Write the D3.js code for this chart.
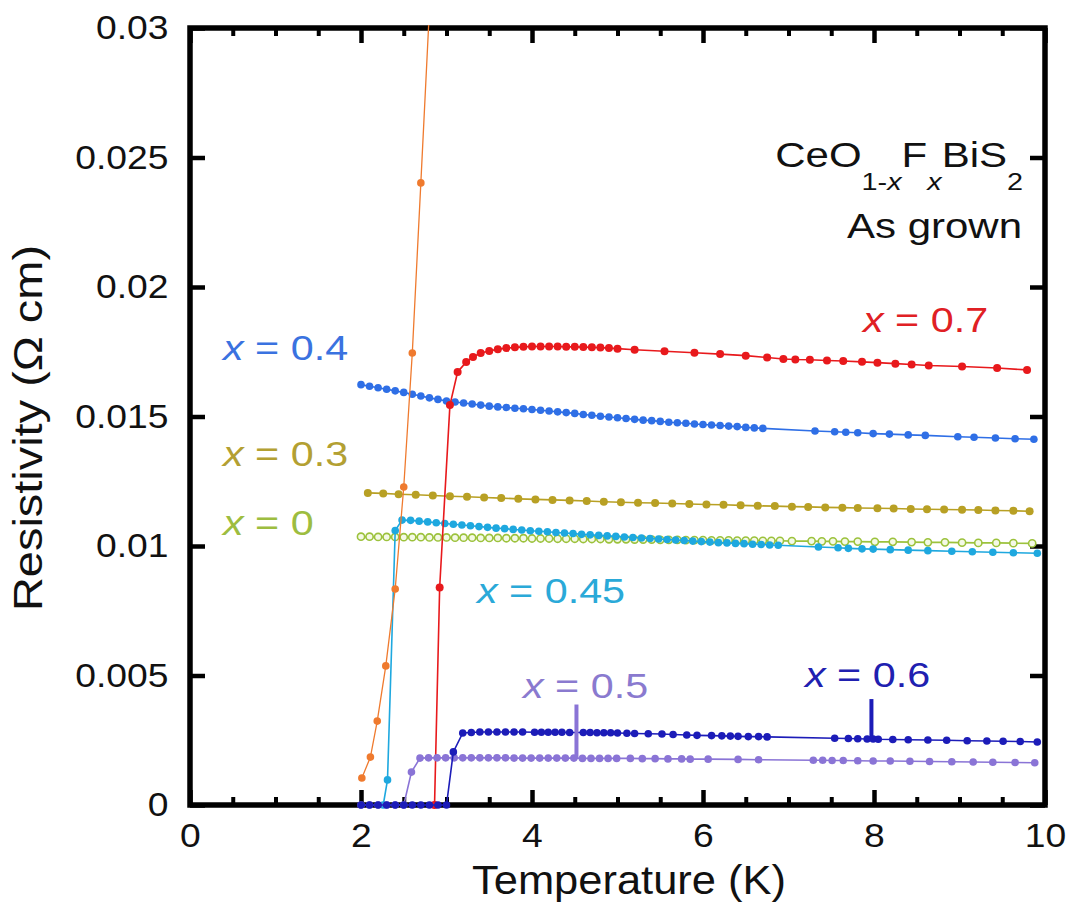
<!DOCTYPE html>
<html><head><meta charset="utf-8">
<script src="https://cdn.jsdelivr.net/npm/d3@7"></script>
<style>
body{margin:0;background:#fff}
text{font-family:"Liberation Sans",Arial,Helvetica,sans-serif}
</style>
</head><body>
<svg id="chart" width="1072" height="909"></svg>
<script>
// ---------------- DATA ----------------
const xMajorTicks = [0, 2, 4, 6, 8, 10];
const xMinorTicks = [0.5, 1, 1.5, 2.5, 3, 3.5, 4.5, 5, 5.5, 6.5, 7, 7.5, 8.5, 9, 9.5];
const yTicks = [0, 0.005, 0.01, 0.015, 0.02, 0.025, 0.03];
const yTickLabels = ["0", "0.005", "0.01", "0.015", "0.02", "0.025", "0.03"];
const xTitle = "Temperature (K)";
const yTitle = "Resistivity (Ω cm)";

// x = 0 (open circles)
const x00 = [[2.0,.01036],[2.1,.01036],[2.2,.01035],[2.3,.01035],[2.4,.01035],[2.5,.01034],[2.6,.01034],[2.7,.01034],[2.8,.01033],[2.9,.01033],[3.0,.01033],[3.1,.01032],[3.2,.01032],[3.3,.01032],[3.4,.01031],[3.5,.01031],[3.6,.01031],[3.7,.0103],[3.8,.0103],[3.9,.0103],[4.0,.01029],[4.1,.01029],[4.2,.01029],[4.3,.01028],[4.4,.01028],[4.5,.01028],[4.6,.01027],[4.7,.01027],[4.8,.01027],[4.9,.01026],[5.0,.01026],[5.1,.01026],[5.2,.01025],[5.3,.01025],[5.4,.01025],[5.5,.01024],[5.6,.01024],[5.7,.01024],[5.8,.01023],[5.9,.01023],[6.0,.01023],[6.1,.01022],[6.2,.01022],[6.3,.01022],[6.4,.01021],[6.5,.01021],[6.6,.01021],[6.7,.0102],[6.8,.0102],[6.9,.0102],[7.04,.01019],[7.27,.01019],[7.39,.01018],[7.52,.01018],[7.66,.01017],[7.81,.01017],[8.01,.01016],[8.22,.01016],[8.44,.01015],[8.63,.01014],[8.83,.01014],[9.03,.01013],[9.22,.01012],[9.43,.01012],[9.63,.01011],[9.85,.0101]];

// x = 0.3
const x03 = [[2.08,.01205],[2.26,.01203],[2.44,.012],[2.64,.01198],[2.84,.01195],[3.04,.01192],[3.24,.0119],[3.44,.01187],[3.64,.01185],[3.84,.01182],[4.04,.0118],[4.24,.01178],[4.44,.01176],[4.64,.01174],[4.84,.01171],[5.04,.01169],[5.24,.01167],[5.44,.01166],[5.64,.01164],[5.84,.01162],[6.04,.0116],[6.24,.01159],[6.44,.01157],[6.64,.01155],[6.84,.01154],[7.04,.01152],[7.23,.01151],[7.43,.01149],[7.63,.01148],[7.81,.01147],[8.04,.01146],[8.23,.01145],[8.43,.01143],[8.62,.01142],[8.82,.01141],[9.03,.0114],[9.22,.01139],[9.42,.01137],[9.63,.01136],[9.82,.01134]];

// x = 0.45
const x045 = [[2.26,0],[2.31,.00097],[2.40,.0106],[2.48,.011],[2.58,.01099],[2.68,.01096],[2.78,.01093],[2.88,.0109],[2.98,.01087],[3.08,.01084],[3.18,.01081],[3.28,.01078],[3.38,.01075],[3.48,.01072],[3.58,.01069],[3.68,.01067],[3.78,.01064],[3.88,.01062],[3.98,.01059],[4.08,.01057],[4.18,.01055],[4.28,.01052],[4.38,.0105],[4.48,.01048],[4.58,.01045],[4.68,.01043],[4.78,.01041],[4.88,.01039],[4.98,.01037],[5.08,.01035],[5.18,.01033],[5.28,.01031],[5.38,.01029],[5.48,.01027],[5.58,.01025],[5.68,.01023],[5.78,.01021],[5.88,.01019],[5.98,.01017],[6.08,.01015],[6.18,.01013],[6.28,.01012],[6.38,.0101],[6.48,.01009],[6.58,.01007],[6.68,.01006],[6.78,.01004],[6.88,.01003],[7.35,.00996],[7.58,.00993],[7.70,.00991],[7.86,.00989],[7.99,.00988],[8.19,.00986],[8.40,.00984],[8.63,.00982],[8.91,.0098],[9.15,.00978],[9.39,.00976],[9.63,.00974],[9.91,.00972]];

// x = 0.4
const x04 = [[2.0,.01623],[2.1,.01617],[2.2,.01611],[2.3,.01605],[2.4,.01599],[2.5,.01593],[2.6,.01586],[2.7,.01579],[2.8,.01572],[2.9,.01566],[3.0,.0156],[3.1,.01556],[3.2,.01552],[3.3,.01548],[3.4,.01544],[3.5,.0154],[3.6,.01537],[3.7,.01535],[3.8,.01532],[3.9,.0153],[4.0,.01527],[4.1,.01524],[4.2,.01521],[4.3,.01518],[4.4,.01515],[4.5,.01512],[4.6,.01508],[4.7,.01505],[4.8,.01501],[4.9,.01498],[5.0,.01495],[5.1,.01492],[5.2,.01489],[5.3,.01486],[5.4,.01484],[5.5,.01481],[5.6,.01478],[5.7,.01476],[5.8,.01474],[5.9,.01471],[6.0,.01469],[6.1,.01467],[6.2,.01465],[6.3,.01463],[6.4,.01461],[6.5,.01458],[6.6,.01456],[6.7,.01454],[7.31,.01444],[7.54,.01441],[7.67,.01439],[7.81,.01437],[7.99,.01434],[8.18,.01432],[8.40,.01429],[8.60,.01427],[8.98,.01422],[9.17,.0142],[9.42,.01417],[9.65,.01414],[9.87,.01412]];

// x = 0.7
const x07 = [[2.86,0],[2.92,.0084],[3.04,.01544],[3.13,.01672],[3.23,.0171],[3.31,.0173],[3.4,.01745],[3.5,.01753],[3.6,.0176],[3.7,.01764],[3.8,.01767],[3.9,.01769],[4.0,.0177],[4.1,.0177],[4.2,.0177],[4.3,.0177],[4.4,.01769],[4.5,.01769],[4.6,.01768],[4.7,.01767],[4.8,.01766],[4.9,.01764],[5.0,.01762],[5.2,.01758],[5.55,.01752],[5.9,.01746],[6.2,.01741],[6.5,.01735],[6.75,.01728],[6.94,.01722],[7.08,.0172],[7.25,.01719],[7.45,.01716],[7.64,.01714],[7.86,.01711],[8.04,.01708],[8.25,.01704],[8.44,.01701],[8.64,.01697],[9.03,.01693],[9.44,.01687],[9.79,.0168]];

// unlabelled orange curve
const xOrange = [[2.01,.00104],[2.11,.00185],[2.19,.00324],[2.29,.00537],[2.40,.00834],[2.50,.01228],[2.60,.01745],[2.70,.02402],[2.80,.0307]];

// x = 0.5
const x05 = [[2.0,0],[2.1,0],[2.2,0],[2.3,0],[2.4,0],[2.5,0],[2.59,.00127],[2.69,.00181],[2.79,.00182],[2.89,.00182],[2.99,.00182],[3.09,.00182],[3.19,.00182],[3.29,.00182],[3.39,.00182],[3.49,.00182],[3.59,.00182],[3.69,.00182],[3.79,.00181],[3.89,.00181],[3.99,.00181],[4.09,.00181],[4.19,.00181],[4.29,.00181],[4.39,.00181],[4.49,.00181],[4.59,.0018],[4.69,.0018],[4.79,.0018],[4.89,.0018],[4.99,.0018],[5.15,.0018],[5.29,.00179],[5.44,.00179],[5.59,.00178],[5.75,.00178],[5.85,.00177],[6.06,.00177],[6.41,.00176],[6.65,.00175],[7.29,.00173],[7.40,.00173],[7.51,.00172],[7.64,.00172],[7.81,.00171],[7.99,.0017],[8.19,.0017],[8.42,.00169],[8.65,.00168],[8.91,.00167],[9.16,.00166],[9.39,.00165],[9.65,.00164],[9.88,.00163]];

// x = 0.6
const x06 = [[2.0,0],[2.1,0],[2.2,0],[2.3,0],[2.4,0],[2.5,0],[2.6,0],[2.7,0],[2.8,0],[2.9,0],[3.0,0],[3.08,.00205],[3.19,.00278],[3.29,.0028],[3.39,.00282],[3.49,.00282],[3.59,.00282],[3.69,.00282],[3.79,.00282],[3.89,.00282],[4.03,.00281],[4.11,.00281],[4.19,.00281],[4.27,.00281],[4.35,.00281],[4.44,.0028],[4.6,.0028],[4.68,.0028],[4.76,.00279],[4.84,.00279],[4.92,.00279],[5.0,.00278],[5.11,.00277],[5.2,.00276],[5.36,.00275],[5.52,.00274],[5.65,.00272],[5.81,.0027],[5.93,.00269],[6.10,.00268],[6.22,.00267],[6.32,.00266],[6.41,.00265],[6.53,.00264],[6.65,.00264],[6.75,.00263],[7.54,.00258],[7.70,.00257],[7.81,.00256],[7.92,.00255],[7.99,.00255],[8.05,.00254],[8.22,.00253],[8.40,.00252],[8.63,.00251],[8.85,.0025],[9.09,.00248],[9.32,.00247],[9.51,.00246],[9.71,.00245],[9.91,.00243]];

// vertical marker bars [T, rho from, rho to]
const barX05 = [4.52, 0.0018, 0.00388];
const barX06 = [7.97, 0.00255, 0.00409];

const labelTexts = {x04:"0.4", x03:"0.3", x00:"0", x045:"0.45", x05:"0.5", x06:"0.6", x07:"0.7"};

// ---------------- RENDER ----------------
const svg = d3.select("#chart");
const L = 190, R = 1045, T = 28, B = 805;
const x = d3.scaleLinear().domain([0, 10]).range([L, R]);
const y = d3.scaleLinear().domain([0, 0.03]).range([B, T]);

const TXT_SX = 1.13;

// frame
svg.append("rect").attr("x", L).attr("y", T).attr("width", R - L).attr("height", B - T)
  .attr("fill", "none").attr("stroke", "#000").attr("stroke-width", 5.5);

function styleAxis(g, sw) {
  g.select(".domain").remove();
  g.selectAll("line").attr("stroke", "#000").attr("stroke-width", sw);
}
// bottom
svg.append("g").attr("transform", `translate(0,${B})`)
  .call(d3.axisBottom(x).tickValues(xMinorTicks).tickSize(-8).tickFormat(""))
  .call(g => styleAxis(g, 4));
const gxb = svg.append("g").attr("transform", `translate(0,${B})`)
  .call(d3.axisBottom(x).tickValues(xMajorTicks).tickSize(-15).tickPadding(19).tickFormat(d3.format("d")))
  .call(g => styleAxis(g, 4.5));
// top
svg.append("g").attr("transform", `translate(0,${T})`)
  .call(d3.axisTop(x).tickValues(xMinorTicks).tickSize(-8).tickFormat(""))
  .call(g => styleAxis(g, 4));
svg.append("g").attr("transform", `translate(0,${T})`)
  .call(d3.axisTop(x).tickValues(xMajorTicks).tickSize(-15).tickFormat(""))
  .call(g => styleAxis(g, 4.5));
// left
const gyl = svg.append("g").attr("transform", `translate(${L},0)`)
  .call(d3.axisLeft(y).tickValues(yTicks).tickSize(-15).tickPadding(19).tickFormat((d, i) => yTickLabels[i]))
  .call(g => styleAxis(g, 4.5));
// right
svg.append("g").attr("transform", `translate(${R},0)`)
  .call(d3.axisRight(y).tickValues(yTicks).tickSize(-15).tickFormat(""))
  .call(g => styleAxis(g, 4.5));

[gxb, gyl].forEach(g => g.selectAll("text")
  .attr("font-size", 33).attr("fill", "#111")
  .attr("font-family", '"Liberation Sans",Arial,sans-serif')
  .attr("transform", `scale(${TXT_SX},1)`));

// axis titles
svg.append("text").attr("x", 629).attr("y", 894)
  .attr("text-anchor", "middle").attr("font-size", 40).attr("fill", "#111")
  .attr("textLength", 314).attr("lengthAdjust", "spacingAndGlyphs")
  .text(xTitle);
svg.append("text").attr("transform", `translate(42,428) rotate(-90)`)
  .attr("text-anchor", "middle").attr("font-size", 40).attr("fill", "#111")
  .attr("textLength", 366).attr("lengthAdjust", "spacingAndGlyphs")
  .text(yTitle);

// clip
svg.append("clipPath").attr("id", "clip").append("rect")
  .attr("x", L - 10).attr("y", T - 3).attr("width", R - L + 10).attr("height", B - T + 15);
const plot = svg.append("g").attr("clip-path", "url(#clip)");

const line = d3.line().x(d => x(d[0])).y(d => y(d[1]));

function drawSeries(data, color, opts = {}) {
  const g = plot.append("g");
  g.append("path").datum(data).attr("d", line).attr("fill", "none")
    .attr("stroke", opts.lineColor || color).attr("stroke-width", opts.lw || 1.6);
  g.selectAll("circle").data(data).join("circle")
    .attr("cx", d => x(d[0])).attr("cy", d => y(d[1])).attr("r", opts.r || 3.8)
    .attr("fill", opts.open ? "#f4f9e6" : color)
    .attr("stroke", opts.open ? color : "none").attr("stroke-width", opts.open ? 1.6 : 0);
}

const C = {
  x00: "#9cc23c", x03: "#b8a024", x045: "#1ea8df", x04: "#2f6fe6",
  x07: "#e8191c", orange: "#ef7a2e", x05: "#8a74d6", x06: "#1c1cb8"
};

drawSeries(x00, C.x00, {open: true, r: 3.6});
drawSeries(x03, C.x03, {r: 4});
drawSeries(x045, C.x045);
drawSeries(x04, C.x04);
drawSeries(x07, C.x07, {r: 4});
drawSeries(xOrange, C.orange, {r: 3.8, lw: 1.3});
drawSeries(x05, C.x05);
drawSeries(x06, C.x06);

// marker bars
[[barX05, C.x05], [barX06, C.x06]].forEach(([b, col]) => {
  svg.append("line").attr("x1", x(b[0])).attr("x2", x(b[0]))
    .attr("y1", y(b[1])).attr("y2", y(b[2]))
    .attr("stroke", col).attr("stroke-width", 4);
});

// series labels
const LBL_SX = 1.18;
function seriesLabel(key, px, py, color) {
  const t = svg.append("text").attr("transform", `translate(${px},${py}) scale(${LBL_SX},1)`)
    .attr("font-size", 35).attr("fill", color);
  t.append("tspan").attr("font-style", "italic").text("x");
  t.append("tspan").text(" = " + labelTexts[key]);
}
seriesLabel("x04", 223, 360, "#3a72e0");
seriesLabel("x03", 223, 466, "#b3a032");
seriesLabel("x00", 223, 535, "#9dbd40");
seriesLabel("x045", 477, 603, "#2aa9d8");
seriesLabel("x05", 523, 698, "#8a7acf");
seriesLabel("x06", 805, 687, "#2020b0");
seriesLabel("x07", 863, 332, "#e02024");

// compound label
const f = svg.append("text").attr("transform", `translate(1023,167) scale(1.2,1)`)
  .attr("text-anchor", "end").attr("font-size", 35).attr("fill", "#111");
f.append("tspan").text("CeO");
f.append("tspan").attr("font-size", 24).attr("dy", 23).text("1-");
f.append("tspan").attr("font-size", 24).attr("font-style", "italic").text("x");
f.append("tspan").attr("dy", -23).text("F");
f.append("tspan").attr("font-size", 24).attr("font-style", "italic").attr("dy", 23).text("x");
f.append("tspan").attr("dy", -23).text("BiS");
f.append("tspan").attr("font-size", 24).attr("dy", 23).text("2");

svg.append("text").attr("transform", `translate(1022,238) scale(1.2,1)`)
  .attr("text-anchor", "end").attr("font-size", 35).attr("fill", "#111").text("As grown");
</script>
</body></html>
